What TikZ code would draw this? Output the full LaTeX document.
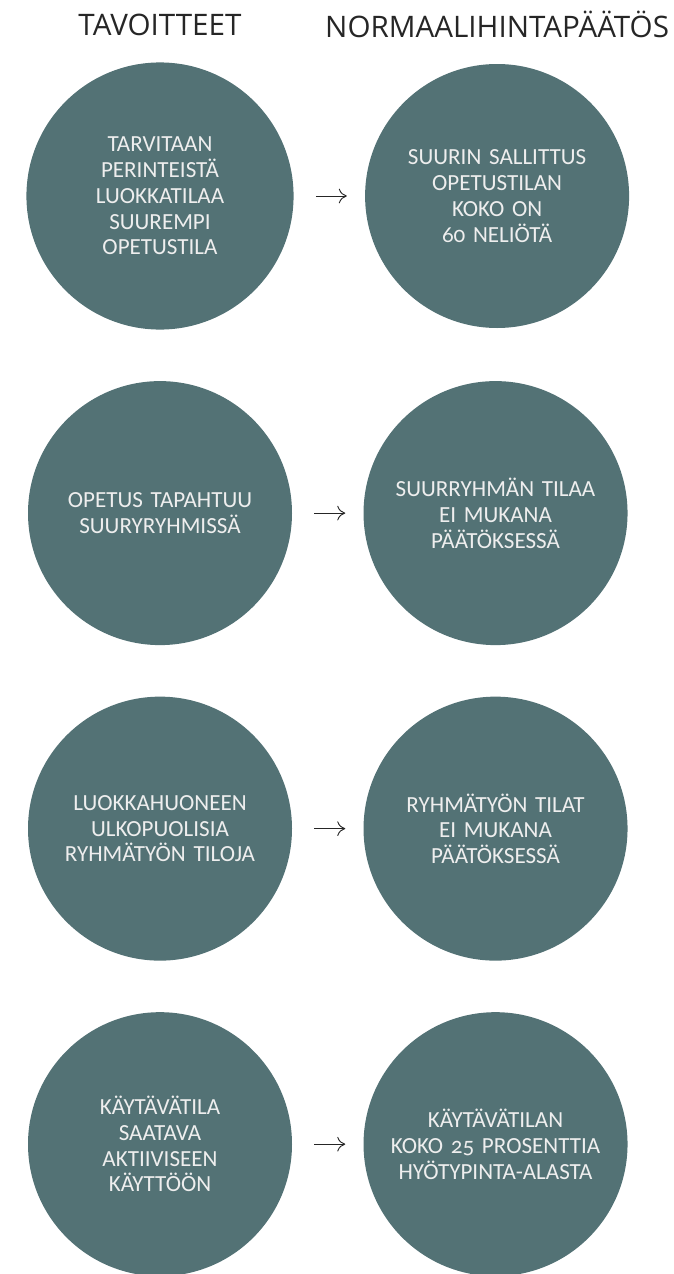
\documentclass[tikz,border=0pt]{standalone}
\usepackage{fontspec}
\setmainfont{Carlito}[Numbers=OldStyle, WordSpace=0.5]
\newfontfamily\headfont{Open Sans}
\usetikzlibrary{positioning,arrows.meta}

\definecolor{pallo}{HTML}{537275}
\definecolor{teksti}{HTML}{EEEEEE}

\tikzset{
  pallo/.style={circle, fill=pallo, draw=none, inner sep=0pt,
    minimum size=198pt, text width=180pt, align=center, text=teksti,
    font=\fontsize{17.3}{19.3}\selectfont},
  otsikko/.style={font=\headfont\fontsize{22.2}{26}\selectfont, text=black!85},
  nuoli/.style={-{To[length=6pt,width=11pt]}, line width=0.7pt, black!85}
}

\begin{document}
\begin{tikzpicture}[x=0.75pt,y=-0.75pt, node distance=38.25pt and 53.25pt]
  \useasboundingbox (0,0) rectangle (674,1274);

  \node[pallo] (a1) at (160,196) {TARVITAAN\\PERINTEISTÄ\\LUOKKATILAA\\SUUREMPI\\OPETUSTILA};
  \node[pallo, right=of a1] (b1) {SUURIN SALLITTUS\\OPETUSTILAN\\KOKO ON\\60 NELIÖTÄ};

  \node[pallo, below=of a1] (a2) {OPETUS TAPAHTUU\\SUURYRYHMISSÄ};
  \node[pallo, right=of a2] (b2) {SUURRYHMÄN TILAA\\EI MUKANA\\PÄÄTÖKSESSÄ};

  \node[pallo, below=of a2] (a3) {LUOKKAHUONEEN\\ULKOPUOLISIA\\RYHMÄTYÖN TILOJA};
  \node[pallo, right=of a3] (b3) {RYHMÄTYÖN TILAT\\EI MUKANA\\PÄÄTÖKSESSÄ};

  \node[pallo, below=of a3] (a4) {KÄYTÄVÄTILA\\SAATAVA\\AKTIIVISEEN\\KÄYTTÖÖN};
  \node[pallo, right=of a4] (b4) {KÄYTÄVÄTILAN\\KOKO 25 PROSENTTIA\\HYÖTYPINTA-ALASTA};

  \node[otsikko, above=16pt of a1] (ta) {TAVOITTEET};
  \node[otsikko, above=16pt of b1] (tb) {NORMAALIHINTAPÄÄTÖS};

  % nuolet
  \foreach \i in {1,...,4} {
    \coordinate[right=16.5pt of a\i] (s\i);
    \coordinate[left=13.5pt of b\i] (t\i);
    \draw[nuoli] (s\i) -- (t\i);
  }
\end{tikzpicture}
\end{document}
